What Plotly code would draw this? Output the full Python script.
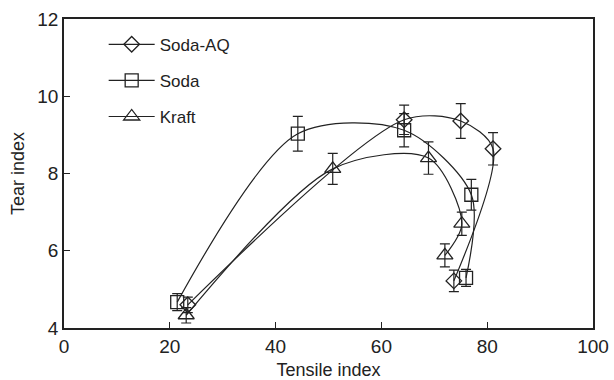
import plotly.graph_objects as go

# Tensile index (x) and tear index (y) for each pulping process, in curve order
soda_aq_x = [23.4, 64.3, 75.0, 81.1, 73.7]
soda_aq_y = [4.60, 9.39, 9.36, 8.64, 5.22]
soda_aq_err = [0.20, 0.38, 0.45, 0.42, 0.28]

soda_x = [21.4, 44.2, 64.3, 77.0, 76.0]
soda_y = [4.67, 9.03, 9.12, 7.45, 5.30]
soda_err = [0.22, 0.45, 0.43, 0.40, 0.22]

kraft_x = [23.1, 50.8, 68.9, 75.2, 72.0]
kraft_y = [4.33, 8.12, 8.40, 6.70, 5.88]
kraft_err = [0.20, 0.40, 0.42, 0.30, 0.30]

series = [
    ("Soda-AQ", soda_aq_x, soda_aq_y, soda_aq_err, "diamond-open", 12),
    ("Soda", soda_x, soda_y, soda_err, "square-open", 13),
    ("Kraft", kraft_x, kraft_y, kraft_err, "triangle-up-open", 14),
]

ink = "#222222"
fig = go.Figure()
for i, (name, xs, ys, err, sym, size) in enumerate(series):
    fig.add_trace(go.Scatter(
        x=xs, y=ys, name=name, mode="lines+markers",
        legendgroup=f"g{i}",
        line=dict(color=ink, width=1.2, shape="spline", smoothing=0.85),
        marker=dict(symbol=sym, size=size, color=ink,
                    line=dict(color=ink, width=1.3)),
        error_y=dict(type="data", array=err, visible=True,
                     color=ink, thickness=1.2, width=5),
    ))

font_family = "Liberation Sans, Arial, sans-serif"
fig.update_layout(
    width=614, height=380,
    margin=dict(l=64, r=21, t=19, b=52),
    paper_bgcolor="white", plot_bgcolor="white",
    font=dict(family=font_family, color=ink),
    showlegend=True,
    legend=dict(x=0.075, y=0.975, xanchor="left", yanchor="top",
                bgcolor="rgba(0,0,0,0)", font=dict(size=17, color=ink),
                traceorder="grouped", tracegroupgap=11,
                itemwidth=46),
    xaxis=dict(range=[0, 100], tickvals=[0, 20, 40, 60, 80, 100],
               automargin=False,
               ticks="inside", ticklen=6, tickcolor=ink, tickwidth=1.3,
               showline=True, linecolor=ink, linewidth=1.6, mirror=True,
               showgrid=False, zeroline=False,
               tickfont=dict(size=19, color=ink),
               title=dict(text="Tensile index", font=dict(size=18), standoff=8)),
    yaxis=dict(range=[4, 12], tickvals=[4, 6, 8, 10, 12],
               automargin=False,
               ticks="inside", ticklen=6, tickcolor=ink, tickwidth=1.3,
               showline=True, linecolor=ink, linewidth=1.6, mirror=True,
               showgrid=False, zeroline=False,
               tickfont=dict(size=19, color=ink),
               title=dict(text="Tear index", font=dict(size=18), standoff=8)),
)

fig.write_html("out.html")
